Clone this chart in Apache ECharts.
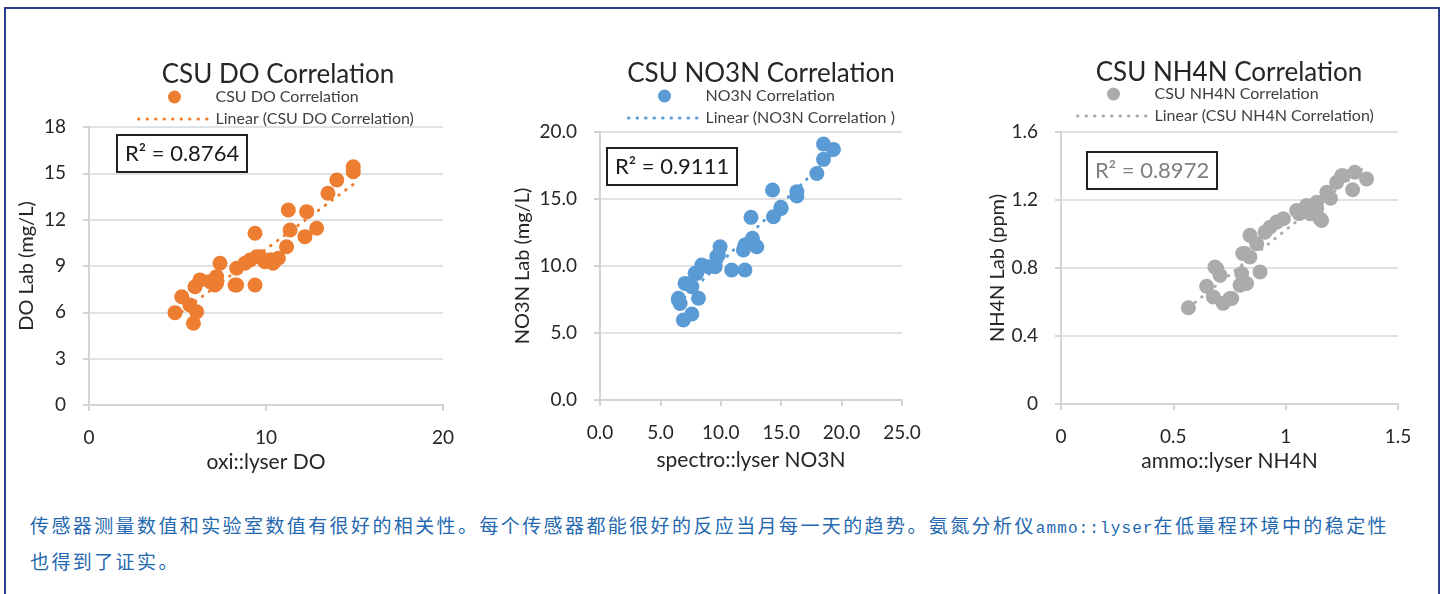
<!DOCTYPE html>
<html>
<head>
<meta charset="utf-8">
<script src="https://cdn.jsdelivr.net/npm/echarts@6/dist/echarts.min.js"></script>
<style>
  html, body { margin: 0; padding: 0; background: #fff; }
  #wrap { position: relative; width: 1447px; height: 594px; overflow: hidden; background: #fff; }
  #frame { position: absolute; left: 4px; top: 7px; width: 1436px; height: 600px; border: 2px solid #2e3c8c; box-sizing: border-box; }
  #chart { position: absolute; left: 0; top: 0; width: 1447px; height: 500px; }
  #caption { position: absolute; left: 30px; top: 509px; white-space: nowrap; color: #2468b0;
             font-family: "Noto Sans CJK SC", sans-serif; font-size: 19px; line-height: 32px; letter-spacing: 2.4px; }
  #caption .lat { font-family: "Liberation Mono", "DejaVu Sans Mono", monospace; font-size: 16px; letter-spacing: 1.1px; }
</style>
</head>
<body>
<div id="wrap">
  <div id="frame"></div>
  <div id="chart"></div>
  <div id="caption">传感器测量数值和实验室数值有很好的相关性。每个传感器都能很好的反应当月每一天的趋势。氨氮分析仪<span class="lat">ammo::lyser</span>在低量程环境中的稳定性<br>也得到了证实。</div>
</div>
<script>
// ---------------- DATA ----------------
const titles = ['CSU DO Correlation', 'CSU NO3N Correlation', 'CSU NH4N Correlation'];
const scatterNames = ['CSU DO Correlation', 'NO3N Correlation', 'CSU NH4N Correlation'];
const trendNames = ['Linear (CSU DO Correlation)', 'Linear (NO3N Correlation )', 'Linear (CSU NH4N Correlation)'];
const r2Labels = ['R² = 0.8764', 'R² = 0.9111', 'R² = 0.8972'];
const xNames = ['oxi::lyser DO', 'spectro::lyser NO3N', 'ammo::lyser NH4N'];
const yNames = ['DO Lab (mg/L)', 'NO3N Lab (mg/L)', 'NH4N Lab (ppm)'];

const doX = [4.86, 5.9, 6.08, 5.24, 6.27, 5.99, 5.7, 7.4, 7.21, 7.12, 8.34, 8.34, 9.38, 9.38, 9.1, 9.47, 10.2, 10.7, 11.16, 11.26, 11.36, 12.3, 12.2, 12.86, 13.5, 14.0, 14.93, 14.93, 6.84, 8.81, 9.94, 10.4, 7.21, 8.25, 9.66, 10.32];
const doY = [5.98, 5.29, 6.04, 7.01, 8.1, 7.66, 6.48, 9.18, 8.31, 7.77, 8.85, 7.77, 11.12, 7.77, 9.39, 9.6, 9.39, 9.5, 10.25, 12.63, 11.33, 12.52, 10.9, 11.44, 13.71, 14.57, 15.43, 15.1, 7.99, 9.18, 9.28, 9.18, 7.88, 7.77, 9.6, 9.39];

const noX = [18.5, 19.33, 18.5, 17.95, 14.28, 16.3, 15.0, 14.36, 12.5, 12.62, 12.98, 12.0, 11.87, 10.9, 12.0, 9.94, 9.67, 9.53, 8.42, 7.87, 7.04, 7.6, 6.49, 6.63, 8.15, 7.6, 6.9, 8.97, 16.3, 14.97, 9.8, 8.0, 6.49];
const noY = [19.1, 18.7, 17.96, 16.9, 15.67, 15.55, 14.3, 13.68, 13.63, 12.07, 11.44, 11.57, 11.19, 9.7, 9.7, 11.44, 10.7, 9.95, 10.07, 9.45, 8.7, 8.46, 7.59, 7.2, 7.59, 6.42, 5.97, 9.95, 15.22, 14.38, 10.82, 9.45, 7.46];

const nhX = [0.567, 0.648, 0.693, 0.708, 0.678, 0.722, 0.76, 0.797, 0.826, 0.886, 0.819, 0.841, 0.871, 0.908, 0.96, 0.99, 1.049, 1.093, 1.138, 1.16, 1.183, 1.227, 1.256, 1.308, 1.36, 1.298, 0.804, 0.841, 1.138, 1.108, 0.752, 1.2, 0.93, 1.06, 1.153, 1.249, 0.809, 0.685];
const nhY = [0.566, 0.693, 0.797, 0.757, 0.63, 0.592, 0.621, 0.699, 0.709, 0.777, 0.885, 0.992, 0.943, 1.011, 1.07, 1.09, 1.138, 1.168, 1.187, 1.08, 1.245, 1.304, 1.343, 1.363, 1.324, 1.26, 0.767, 0.865, 1.15, 1.119, 0.621, 1.21, 1.04, 1.12, 1.09, 1.343, 0.885, 0.806];

const xMin = [0, 0, 0], xMax = [20, 25, 1.5], xInt = [10, 5, 0.5];
const yMin = [0, 0, 0], yMax = [18, 20, 1.6], yInt = [3, 5, 0.4];
const xDecimals = [null, 1, null], yDecimals = [null, 1, null];
// ---------------------------------------

const xs = [doX, noX, nhX], ys = [doY, noY, nhY];
const colors = ['#ED7D31', '#5B9BD5', '#ABABAD'];
const FONT = 'Lato, "Open Sans", sans-serif';

function fit(x, y) {
  const n = x.length;
  let sx = 0, sy = 0, sxx = 0, sxy = 0;
  for (let i = 0; i < n; i++) { sx += x[i]; sy += y[i]; sxx += x[i] * x[i]; sxy += x[i] * y[i]; }
  const b = (n * sxy - sx * sy) / (n * sxx - sx * sx);
  const a = (sy - b * sx) / n;
  const lo = Math.min(...x), hi = Math.max(...x);
  return [[lo, a + b * lo], [hi, a + b * hi]];
}

const grids = [
  { left: 89, top: 127, width: 354, height: 278 },
  { left: 600, top: 132, width: 302, height: 268 },
  { left: 1061, top: 132, width: 337, height: 272 }
];
const titlePos = [[278, 62], [761, 61], [1229, 60]];
const legendPos = [[137, 89], [627, 88], [1076, 86]];
const r2Pos = [[117, 135], [607, 148], [1087, 152]];
const r2Color = ['#1a1a1a', '#1a1a1a', '#7f7f7f'];
const yNameGap = [52, 67, 51];
const xNameGap = [47, 50, 46];
const trendDash = { width: 3, type: [0.5, 8], cap: 'round' };

const option = {
  animation: false,
  textStyle: { fontFamily: FONT },
  title: [], legend: [], grid: [], xAxis: [], yAxis: [], series: []
};

for (let k = 0; k < 3; k++) {
  option.grid.push(Object.assign({ containLabel: false }, grids[k]));
  option.title.push({
    text: titles[k], left: titlePos[k][0], top: titlePos[k][1], textAlign: 'center', padding: 0,
    textStyle: { fontFamily: FONT, fontSize: 26, fontWeight: 'normal', color: '#262626' }
  });
  option.title.push({
    text: r2Labels[k], left: r2Pos[k][0], top: r2Pos[k][1],
    borderColor: '#222', borderWidth: 2, padding: [8, 8, 7, 8],
    textStyle: { fontFamily: FONT, fontSize: 22, fontWeight: 'normal', color: r2Color[k] }
  });
  option.legend.push({
    data: [
      { name: scatterNames[k] },
      { name: trendNames[k], itemStyle: { opacity: 0, borderWidth: 0 },
        lineStyle: Object.assign({ color: colors[k] }, trendDash) }
    ],
    orient: 'vertical', left: legendPos[k][0], top: legendPos[k][1], padding: 0,
    itemWidth: 72, itemHeight: 13, itemGap: 6,
    textStyle: { fontFamily: FONT, fontSize: 16, color: '#404040' }
  });
  const axisLine = { show: true, onZero: false, lineStyle: { color: '#d4d4d4', width: 2 } };
  const axisTick = { show: true, inside: false, length: 6, lineStyle: { color: '#d4d4d4', width: 2 } };
  const splitLine = { show: true, lineStyle: { color: '#d9d9d9', width: 1.5 } };
  const xd = xDecimals[k], yd = yDecimals[k];
  option.xAxis.push({
    type: 'value', gridIndex: k, min: xMin[k], max: xMax[k], interval: xInt[k],
    name: xNames[k], nameLocation: 'middle', nameGap: xNameGap[k],
    nameTextStyle: { fontFamily: FONT, fontSize: 21, color: '#262626' },
    axisLine, axisTick, splitLine: { show: false },
    axisLabel: { margin: 23, fontFamily: FONT, fontSize: 19, color: '#262626',
      formatter: v => xd == null ? String(+v.toFixed(3)) : v.toFixed(xd) }
  });
  option.yAxis.push({
    type: 'value', gridIndex: k, min: yMin[k], max: yMax[k], interval: yInt[k],
    name: yNames[k], nameLocation: 'middle', nameGap: yNameGap[k],
    nameTextStyle: { fontFamily: FONT, fontSize: 20, color: '#262626' },
    axisLine, axisTick, splitLine,
    axisLabel: { margin: 23, fontFamily: FONT, fontSize: 19, color: '#262626',
      formatter: v => yd == null ? String(+v.toFixed(3)) : v.toFixed(yd) }
  });
  option.series.push({
    type: 'scatter', name: scatterNames[k], xAxisIndex: k, yAxisIndex: k,
    symbol: 'circle', symbolSize: 15, itemStyle: { color: colors[k], opacity: 1 },
    data: xs[k].map((x, i) => [x, ys[k][i]]), z: 2
  });
  option.series.push({
    type: 'line', name: trendNames[k], xAxisIndex: k, yAxisIndex: k,
    symbol: 'none', showSymbol: false, silent: true,
    itemStyle: { color: colors[k] },
    lineStyle: Object.assign({ color: colors[k] }, trendDash),
    data: fit(xs[k], ys[k]), z: 3
  });
}

const chart = echarts.init(document.getElementById('chart'), null, { renderer: 'canvas' });
chart.setOption(option);
</script>
</body>
</html>
